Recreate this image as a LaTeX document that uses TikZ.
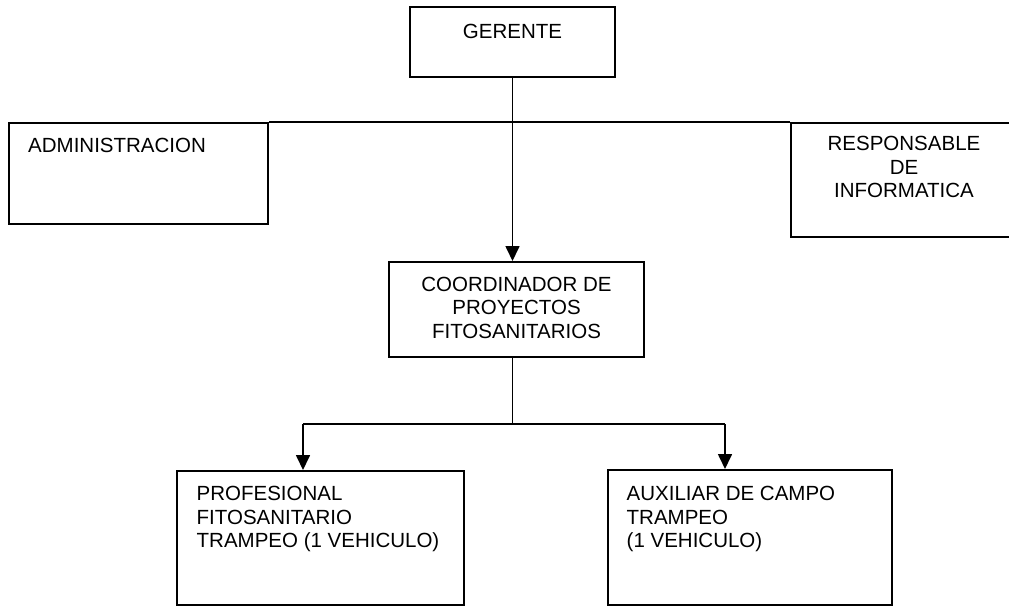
\documentclass[tikz,border=0pt]{standalone}
\usepackage{fontspec}
\setmainfont{Liberation Sans}
\usepackage{tikz}
\usetikzlibrary{arrows.meta,positioning}

\begin{document}
\begin{tikzpicture}[x=1pt,y=-1pt]
            \tikzstyle{caja}=[rectangle,draw,line width=2pt,inner sep=0pt]
            \tikzstyle{texto}=[inner sep=0pt,font=\fontsize{20.5pt}{23.5pt}\selectfont]
            \tikzstyle{conector}=[line width=1.7pt]
            \tikzstyle{flecha}=[conector,-{Triangle[length=15pt,width=14pt]}]

            \useasboundingbox (0,0) rectangle (1009,607);

            % jefe y staff
            \node[caja,minimum width=205pt,minimum height=70pt,
                  label={[texto,anchor=north,yshift=-18pt]north:GERENTE}] (ger) at (512.5,42) {};
            \node[caja,minimum width=259pt,minimum height=101pt,
                  label={[texto,anchor=north west,xshift=20pt,yshift=-16pt]north west:ADMINISTRACION}] (adm) at (138.5,173.5) {};
            \node[caja,minimum width=226pt,minimum height=114pt,
                  label={[texto,align=center,anchor=north,yshift=-14pt]north:RESPONSABLE\\DE\\INFORMATICA}] (resp) at (904,180) {};

            % coordinacion
            \node[caja,minimum width=255pt,minimum height=95pt,
                  label={[texto,align=center,anchor=north,yshift=-15.5pt]north:COORDINADOR DE\\PROYECTOS\\FITOSANITARIOS}] (coord) at (516.5,309.5) {};

            % personal de campo
            \node[caja,minimum width=287pt,minimum height=134pt,
                  label={[texto,align=left,anchor=north west,xshift=20.5pt,yshift=-16pt]north west:PROFESIONAL\\FITOSANITARIO\\TRAMPEO (1 VEHICULO)}] (prof) at (320.5,538) {};
            \node[caja,minimum width=284pt,minimum height=135pt,
                  label={[texto,align=left,anchor=north west,xshift=19.5pt,yshift=-17pt]north west:AUXILIAR DE CAMPO\\TRAMPEO\\(1 VEHICULO)}] (aux) at (750,537.5) {};

            \coordinate (bif) at (512.5,424);
            \coordinate (izq) at (303,424);
            \coordinate (der) at (725,424);

            \draw[conector] (adm.north east) -- (resp.north west);
            \draw[flecha] (ger.south) -- (ger.south |- coord.north);
            \draw[conector] (bif |- coord.south) -- (bif);
            \draw[conector] (izq) -- (der);
            \draw[flecha] (izq) -- (izq |- prof.north);
            \draw[flecha] (der) -- (der |- aux.north);
        \end{tikzpicture}
\end{document}
